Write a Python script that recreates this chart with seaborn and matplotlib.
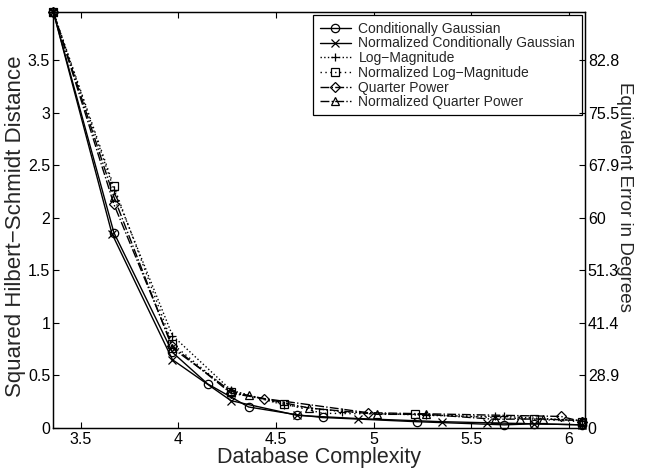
import matplotlib
matplotlib.use("Agg")
import matplotlib.pyplot as plt
import seaborn as sns
import numpy as np

# ---- data ----
cg_x = [3.36, 3.67, 3.97, 4.15, 4.36, 4.61, 4.74, 5.22, 5.67, 5.82, 6.07]
cg_y = [3.96, 1.86, 0.72, 0.42, 0.20, 0.125, 0.10, 0.06, 0.03, 0.04, 0.03]

ncg_x = [3.36, 3.66, 3.97, 4.27, 4.61, 4.92, 5.35, 5.58, 5.82, 6.07]
ncg_y = [3.96, 1.85, 0.65, 0.26, 0.12, 0.09, 0.06, 0.05, 0.04, 0.03]

lm_x = [3.36, 3.67, 3.97, 4.27, 4.54, 4.84, 5.27, 5.62, 5.67, 6.07]
lm_y = [3.96, 2.27, 0.88, 0.36, 0.22, 0.155, 0.12, 0.11, 0.11, 0.07]

nlm_x = [3.36, 3.67, 3.97, 4.27, 4.54, 4.74, 5.21, 5.82, 6.07]
nlm_y = [3.96, 2.30, 0.80, 0.34, 0.23, 0.14, 0.13, 0.085, 0.06]

qp_x = [3.36, 3.67, 3.97, 4.27, 4.44, 4.97, 5.96, 6.07]
qp_y = [3.96, 2.13, 0.78, 0.33, 0.28, 0.146, 0.11, 0.06]

nqp_x = [3.36, 3.67, 3.97, 4.27, 4.36, 4.67, 5.02, 5.27, 5.62, 5.75, 5.87, 6.07]
nqp_y = [3.96, 2.20, 0.76, 0.35, 0.31, 0.19, 0.13, 0.13, 0.083, 0.085, 0.085, 0.07]

series_names = ["Conditionally Gaussian", "Normalized Conditionally Gaussian",
                "Log\u2212Magnitude", "Normalized Log\u2212Magnitude",
                "Quarter Power", "Normalized Quarter Power"]

x_ticks = [3.5, 4, 4.5, 5, 5.5, 6]
left_ticks = [0, 0.5, 1, 1.5, 2, 2.5, 3, 3.5]
right_tick_labels = ["0", "28.9", "41.4", "51.3", "60", "67.9", "75.5", "82.8"]

# ---- styling ----
sns.set_style("ticks")
plt.rcParams["font.family"] = ["Liberation Sans", "DejaVu Sans"]
plt.rcParams["xtick.direction"] = "in"
plt.rcParams["ytick.direction"] = "in"

fig = plt.figure(figsize=(6.5, 4.71), dpi=100)
ax = fig.add_axes([0.0815, 0.0913, 0.9 - 0.0815, 0.9745 - 0.0913])

styles = [
    (cg_x, cg_y, "-", "o"),
    (ncg_x, ncg_y, "-", "x"),
    (lm_x, lm_y, ":", "+"),
    (nlm_x, nlm_y, (0, (1, 2.5)), "s"),
    (qp_x, qp_y, "-.", "D"),
    (nqp_x, nqp_y, "-.", "^"),
]

for (xs, ys, ls, mk), name in zip(styles, series_names):
    sns.lineplot(x=xs, y=ys, ax=ax, color="black", linestyle=ls, linewidth=1.0,
                 marker=mk, markersize=6 if mk != "D" else 5,
                 markerfacecolor="none", markeredgecolor="black",
                 markeredgewidth=0.9, sort=False, label=name, clip_on=False)

ax.set_xlim(3.358, 6.083)
ax.set_ylim(0, 3.96)
ax.set_xticks(x_ticks)
ax.set_xticklabels([f"{t:g}" for t in x_ticks])
ax.set_yticks(left_ticks)
ax.set_yticklabels([f"{t:g}" for t in left_ticks])
ax.tick_params(axis="both", labelsize=11.5, length=4.5, width=0.8, top=True,
               colors="black")
ax.tick_params(axis="y", pad=2)
ax.tick_params(axis="x", pad=3)
for sp in ax.spines.values():
    sp.set_color("black")
    sp.set_linewidth(0.9)

ax.set_xlabel("Database Complexity", fontsize=15.5, labelpad=0)
ax.set_ylabel("Squared Hilbert\u2212Schmidt Distance", fontsize=16)
ax.yaxis.set_label_coords(-0.05, 0.485)

ax2 = ax.twinx()
ax2.set_ylim(ax.get_ylim())
ax2.set_yticks(left_ticks)
ax2.set_yticklabels(right_tick_labels)
ax2.tick_params(axis="y", labelsize=11.5, length=4.5, width=0.8, direction="in",
                pad=2, colors="black")
for sp in ax2.spines.values():
    sp.set_color("black")
    sp.set_linewidth(0.9)
ax2.set_ylabel("Equivalent Error in Degrees", fontsize=13.5, rotation=-90)
ax2.yaxis.set_label_coords(1.09, 0.555)

leg = ax.legend(loc="upper right", frameon=True, fancybox=False,
                edgecolor="black", framealpha=1, fontsize=10,
                handlelength=2.3, handletextpad=0.5, borderaxespad=0.25,
                borderpad=0.45, labelspacing=0.05)
leg.get_frame().set_linewidth(0.9)

fig.savefig("out.png", dpi=100)
